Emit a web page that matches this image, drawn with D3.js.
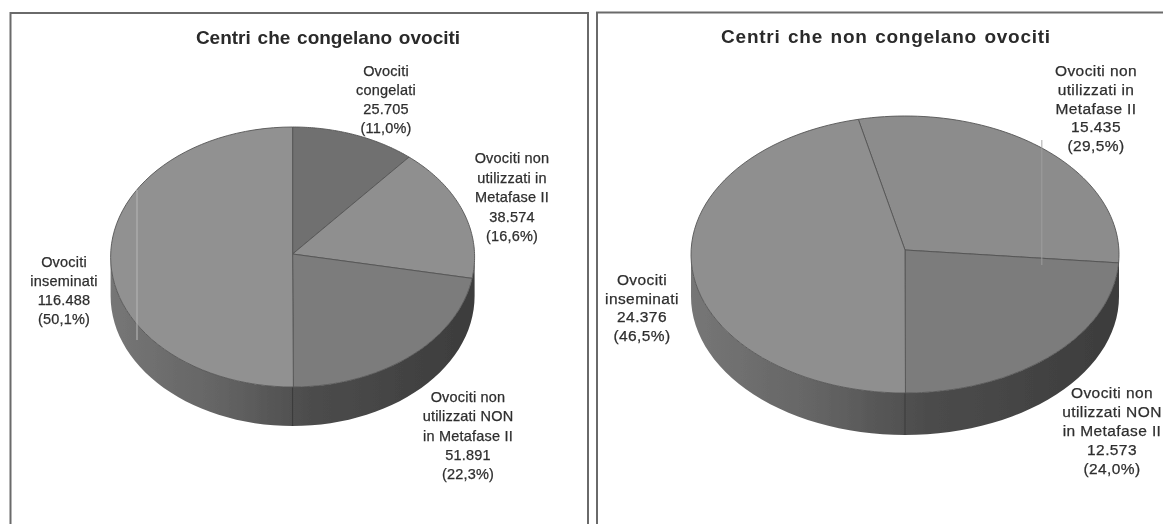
<!DOCTYPE html>
<html><head><meta charset="utf-8">
<script src="https://cdn.jsdelivr.net/npm/d3@7/dist/d3.min.js"></script>
<style>html,body{margin:0;padding:0;background:#fff;overflow:hidden}svg{display:block}</style>
</head><body>
<svg id="c" width="1163" height="524"></svg>
<script>
const titleA = "Centri che congelano ovociti";
const categoriesA = ["Ovociti congelati","Ovociti non utilizzati in Metafase II","Ovociti non utilizzati NON in Metafase II","Ovociti inseminati"];
const valuesA = [25705,38574,51891,116488];
const labelsA = [["Ovociti","congelati","25.705","(11,0%)"],["Ovociti non","utilizzati in","Metafase II","38.574","(16,6%)"],["Ovociti non","utilizzati NON","in Metafase II","51.891","(22,3%)"],["Ovociti","inseminati","116.488","(50,1%)"]];
const titleB = "Centri che non congelano ovociti";
const categoriesB = ["Ovociti non utilizzati in Metafase II","Ovociti non utilizzati NON in Metafase II","Ovociti inseminati"];
const valuesB = [15435,12573,24376];
const labelsB = [["Ovociti non","utilizzati in","Metafase II","15.435","(29,5%)"],["Ovociti non","utilizzati NON","in Metafase II","12.573","(24,0%)"],["Ovociti","inseminati","24.376","(46,5%)"]];

const svg = d3.select("#c");
const defs = svg.append("defs");
defs.append("filter").attr("id","soft").attr("x","-5%").attr("y","-5%").attr("width","110%").attr("height","110%")
  .append("feGaussianBlur").attr("stdDeviation",0.55);
const root = svg.append("g").attr("filter","url(#soft)");
root.append("rect").attr("width",1163).attr("height",524).attr("fill","#ffffff");

// frames
const frame = "M10.5,524V13H588V524M597,524V12.5H1163";
root.append("path").attr("d",frame).attr("fill","none").attr("stroke","#6a6a6a").attr("stroke-width",2);

function drawPie(o){
  const g = root.append("g");
  const gid = o.id+"side";
  const grad = defs.append("linearGradient").attr("id",gid).attr("gradientUnits","userSpaceOnUse")
    .attr("x1",o.cx-o.rx).attr("x2",o.cx+o.rx).attr("y1",0).attr("y2",0);
  [[0,"#767676"],[0.3,"#646464"],[0.55,"#4c4c4c"],[1,"#3c3c3c"]].forEach(s=>grad.append("stop").attr("offset",s[0]).attr("stop-color",s[1]));
  const arcs = d3.pie().sort(null).startAngle(o.start).endAngle(o.start+2*Math.PI)(o.values);
  const px = a => o.cx + o.rx*Math.sin(a);
  const py = a => o.cy - o.ry*Math.cos(a);
  const arcPts = (a0,a1,dy) => d3.range(0,61).map(i=>{const a=a0+(a1-a0)*i/60; return [px(a),py(a)+dy];});
  const line = d3.line();
  const rim = arcPts(Math.PI/2,3*Math.PI/2,0).concat(arcPts(Math.PI/2,3*Math.PI/2,o.depth).reverse());
  g.append("path").attr("d",line(rim)+"Z").attr("fill",`url(#${gid})`);
  g.append("line").attr("x1",o.cx).attr("x2",o.cx).attr("y1",o.cy+o.ry).attr("y2",o.cy+o.ry+o.depth).attr("stroke","#3a3a3a").attr("stroke-width",1);
  g.selectAll("path.face").data(arcs).join("path").attr("class","face")
    .attr("d",d=>line([[o.cx,o.hub]].concat(arcPts(d.startAngle,d.endAngle,0)))+"Z")
    .attr("fill",(d,i)=>o.colors[i]).attr("stroke","#555555").attr("stroke-width",0.9).attr("stroke-linejoin","round");
  g.append("text").text(o.title).attr("x",o.tx).attr("y",o.ty).attr("text-anchor","middle")
    .attr("font-family","Liberation Sans, Arial, sans-serif").attr("font-weight","bold").attr("font-size",o.tsize)
    .attr("letter-spacing",o.tspace).attr("fill","#2a2a2a").attr("word-spacing",1.5);
  o.labels.forEach((ls,i)=>{
    const t = g.append("text").attr("text-anchor","middle").attr("font-family","Liberation Sans, Arial, sans-serif")
      .attr("font-size",o.lsize).attr("letter-spacing",o.lspace).attr("fill","#2e2e2e").attr("stroke","#2e2e2e").attr("stroke-width",0.25);
    ls.forEach((s,j)=>t.append("tspan").attr("x",o.lab[i][0]).attr("y",o.lab[i][1]+j*o.lab[i][2]).text(s));
  });
}

drawPie({id:"a",title:titleA,values:valuesA,labels:labelsA,start:0,cx:292.6,cy:257,hub:254,rx:182,ry:130,depth:39,
  colors:["#6f6f6f","#8f8f8f","#7b7b7b","#919191"],tx:328,ty:44,tsize:19,tspace:0,lsize:14.5,lspace:0.2,
  lab:[[386,76,19],[512,163,19.5],[468,402,19.3],[64,267,19]]});
drawPie({id:"b",title:titleB,values:valuesB,labels:labelsB,start:-12.6*Math.PI/180,cx:905,cy:254.5,hub:250,rx:214,ry:138.5,depth:42,
  colors:["#8c8c8c","#7b7b7b","#8f8f8f"],tx:886,ty:43,tsize:19,tspace:0.75,lsize:15.5,lspace:0.4,
  lab:[[1096,76,18.8],[1112,398,19],[642,285,18.7]]});

// scanner streaks
root.append("g").selectAll("rect").data([[136,190,340,"#b0b0b0",2],[1041,140,265,"#a0a0a0",1.5]]).join("rect")
  .attr("x",d=>d[0]).attr("y",d=>d[1]).attr("width",d=>d[4]).attr("height",d=>d[2]-d[1]).attr("fill",d=>d[3]).attr("opacity",.6);
</script>
</body></html>
